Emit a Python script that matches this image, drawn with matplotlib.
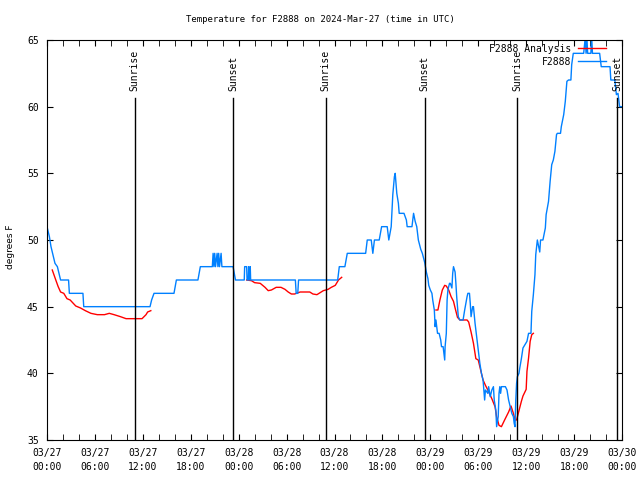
import numpy as np
import matplotlib
matplotlib.use("Agg")
import matplotlib.pyplot as plt
from matplotlib.ticker import MultipleLocator

plt.rcParams['font.family'] = ['DejaVu Sans Mono']

# hours since 03/27 00:00 UTC
obs_hours = [0.0, 0.3, 0.5, 0.8, 1.0, 1.3, 1.5, 1.7, 2.7, 2.8, 4.5, 4.6, 12.9, 13.1, 13.4, 15.9, 16.2,
             18.9, 19.2, 20.7, 20.8, 20.9, 21.0, 21.1, 21.3, 21.4, 21.5, 21.6, 21.8, 21.9, 23.3, 23.6,
             24.7, 24.75, 25.0, 25.05, 25.2, 25.25, 25.35, 25.45, 25.5, 31.1, 31.2, 31.4, 31.5, 36.4,
             36.6, 37.3, 37.6, 39.9, 40.1, 40.6, 40.8, 41.0, 41.6, 41.9, 42.6, 42.8, 43.1, 43.3, 43.5,
             43.6, 43.8, 44.0, 44.1, 44.7, 45.0, 45.1, 45.7, 45.9, 46.1, 46.3, 46.5, 46.8, 47.0, 47.3,
             47.5, 47.7, 47.8, 48.0, 48.2, 48.3, 48.5, 48.6, 48.7, 48.9, 49.1, 49.3, 49.4, 49.6, 49.8,
             49.85, 50.0, 50.1, 50.2, 50.4, 50.5, 50.7, 50.8, 50.9, 51.1, 51.2, 51.3, 51.5, 51.7, 52.1,
             52.3, 52.6, 52.7, 52.9, 53.0, 53.1, 53.3, 53.4, 53.6, 53.8, 54.0, 54.2, 54.4, 54.6, 54.8,
             54.9, 55.2, 55.3, 55.5, 55.7, 55.9, 56.0, 56.2, 56.3, 56.5, 56.6, 56.7, 56.8, 56.9, 57.4,
             57.6, 57.8, 58.0, 58.2, 58.4, 58.5, 58.6, 58.7, 58.8, 58.9, 59.1, 59.2, 59.4, 59.6, 60.1,
             60.3, 60.6, 60.7, 60.9, 61.1, 61.2, 61.4, 61.6, 61.7, 61.8, 62.1, 62.4, 62.5, 62.8, 63.0,
             63.2, 63.4, 63.6, 63.8, 63.9, 64.3, 64.4, 64.7, 64.9, 65.1, 65.3, 65.6, 65.7, 65.9, 67.2,
             67.4, 67.5, 67.6, 67.7, 68.1, 68.2, 68.3, 69.2, 69.4, 70.5, 70.6, 71.1, 71.3, 71.5, 71.7,
             72.0]
obs_temps = [51, 50.25, 49.5, 48.75, 48.25, 48, 47.5, 47, 47, 46, 46, 45, 45, 45.5, 46, 46, 47,
             47, 48, 48, 49, 48, 49, 48, 49, 48, 49, 48, 49, 48, 48, 47,
             47, 48, 48, 47, 47, 48, 47, 48, 47, 47, 46, 46, 47, 47,
             48, 48, 49, 49, 50, 50, 49, 50, 50, 51, 51, 50, 51, 53.4, 54.75,
             55, 53.5, 52.75, 52, 52, 51.5, 51, 51, 52, 51.4, 51, 50, 49.3, 49, 48.3,
             47.6, 47.1, 46.6, 46.25, 46, 45.5, 44.75, 43.5, 44, 43, 43, 42.5, 42, 42, 41,
             42, 43, 45.5, 46.25, 46.75, 46.75, 46.4, 47.5, 48, 47.6, 46.75, 45.75, 44.25, 44, 44,
             44.75, 45.75, 46, 46, 45.25, 44.25, 45, 45, 43.75, 42.75, 41.75, 40.75, 40, 39.5, 38,
             38.75, 38.5, 39, 38.25, 38.75, 39, 38, 37.25, 36, 36.75, 38.5, 39, 38.5, 39, 39,
             38.75, 38, 37.5, 37, 36.75, 36.25, 36, 38, 39.25, 39.75, 40, 40.4, 41.1, 41.9, 42.4,
             43, 43, 44.65, 45.9, 47.4, 48.9, 50, 49.4, 49.1, 50, 50, 50.9, 51.9, 52.9, 54.4,
             55.65, 56, 56.65, 57.9, 58, 58, 58.5, 59.4, 60.4, 61.9, 62, 62, 63.15, 64, 64,
             65.2, 64, 65.2, 64, 64, 65.2, 64, 64, 63, 63, 62, 62, 60.9, 61, 60,
             60]

ana_hours = [0.66, 1.1, 1.4, 1.7, 2.1, 2.5, 2.9, 3.6, 4.2, 4.8, 5.5, 6.3, 7.2, 7.8, 8.4, 9.2, 9.9,
             11.9, 12.4, 12.6, 13.0, np.nan,
             25.0, 25.6, 26.0, 26.7, 27.3, 27.7, 28.1, 28.7, 29.3, 29.8, 30.2, 30.6, 31.0, 31.7, 32.9,
             33.3, 33.8, 34.2, 34.6, 35.2, 35.6, 36.1, 36.5, 36.9, np.nan,
             48.7, 48.95, 49.2, 49.5, 49.8, 50.0, 50.3, 50.6, 50.9, 51.1, 51.4, 51.7, 52.6, 52.8, 53.1,
             53.4, 53.7, 54.0, 54.3, 54.6, 54.9, 55.2, 55.7, 56.1, 56.3, 56.6, 56.9, 57.3, 57.8, 58.1,
             58.4, 58.6, 58.8, 59.1, 59.4, 59.6, 60.0, 60.1, 60.3, 60.5, 60.7, 60.9]
ana_temps = [47.75, 47, 46.5, 46.1, 46, 45.6, 45.5, 45.05, 44.9, 44.7, 44.5, 44.4, 44.4, 44.5, 44.4,
             44.25, 44.1, 44.1, 44.4, 44.6, 44.7, np.nan,
             47.0, 46.95, 46.8, 46.75, 46.45, 46.2, 46.25, 46.45, 46.45, 46.3, 46.1, 45.95, 45.95,
             46.1, 46.1, 45.95, 45.9, 46.05, 46.2, 46.3, 46.45, 46.6, 47, 47.2, np.nan,
             44.75, 44.75, 45.5, 46.25, 46.6, 46.55, 46.25, 45.75, 45.4, 44.9, 44.2, 44, 44, 43.85,
             43.1, 42.25, 41.1, 41.0, 40.25, 39.5, 39.1, 38.75, 38.1, 37.5, 36.75, 36.1, 36.0, 36.5,
             37.1, 37.55, 37.0, 36.5, 36.5, 37.2, 37.9, 38.3, 38.8, 40.15, 41.15, 42.4, 42.9, 43]

sun_hours = [11.0, 23.3, 34.9, 47.3, 58.85, 71.4]
sun_labels = ["Sunrise", "Sunset", "Sunrise", "Sunset", "Sunrise", "Sunset"]

tick_hours = list(range(0, 73, 6))
tick_labels = ["03/27\n00:00", "03/27\n06:00", "03/27\n12:00", "03/27\n18:00",
               "03/28\n00:00", "03/28\n06:00", "03/28\n12:00", "03/28\n18:00",
               "03/29\n00:00", "03/29\n06:00", "03/29\n12:00", "03/29\n18:00",
               "03/30\n00:00"]

fig = plt.figure(figsize=(6.4, 4.8), dpi=100)
ax = fig.add_axes([47/640, 40/480, 575/640, 400/480])

ax.plot(ana_hours, ana_temps, color='#ff0000', lw=1, label='F2888 Analysis')
ax.plot(obs_hours, obs_temps, color='#0080ff', lw=1, label='F2888')

for h, lab in zip(sun_hours, sun_labels):
    ax.axvline(h, ymin=0, ymax=0.855, color='black', lw=1)
    ax.text(h, 35 + 0.872 * 30, lab, rotation=90, ha='center', va='bottom', fontsize=7)

ax.set_xlim(0, 72)
ax.set_ylim(35, 65)
ax.set_xticks(tick_hours)
ax.set_xticklabels(tick_labels, linespacing=1.5)
ax.xaxis.set_minor_locator(MultipleLocator(2))
ax.yaxis.set_major_locator(MultipleLocator(5))
ax.tick_params(which='both', direction='in', top=True, right=True, length=4, labelsize=7)
ax.tick_params(axis='x', pad=6)
ax.tick_params(axis='y', pad=6)

fig.text(0.5, 1 - 19/480, "Temperature for F2888 on 2024-Mar-27 (time in UTC)",
         fontsize=6.5, ha='center', va='center')
fig.text(11/640, 1 - 247/480, "degrees F", family='DejaVu Sans', fontsize=6.5,
         rotation=90, ha='center', va='center')

ax.legend(loc='upper right', frameon=False, markerfirst=False, fontsize=7,
          handlelength=2.9, handletextpad=0.7, labelspacing=0.3,
          bbox_to_anchor=(1 - 12/575, 1.0), borderaxespad=0.0)

fig.savefig("out.png", dpi=100)
